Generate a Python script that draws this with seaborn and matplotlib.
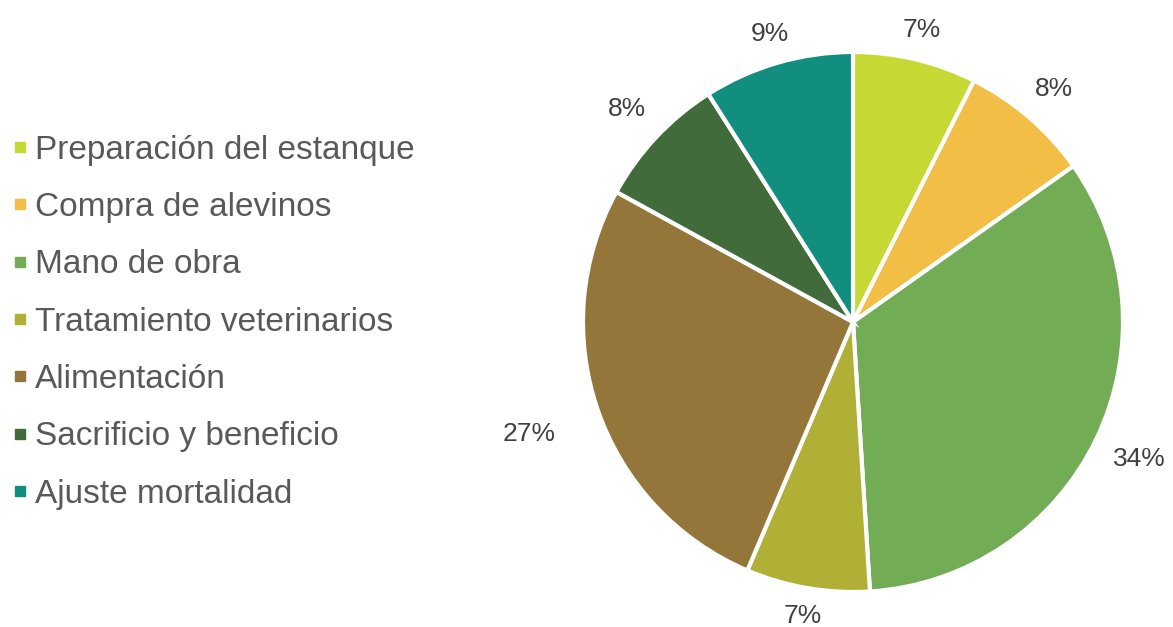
import matplotlib
matplotlib.use("Agg")
import numpy as np
import matplotlib.pyplot as plt
import seaborn as sns
from matplotlib.lines import Line2D

# data (percent of total cost)
categorias = ["Preparación del estanque", "Compra de alevinos", "Mano de obra",
              "Tratamiento veterinarios", "Alimentación", "Sacrificio y beneficio",
              "Ajuste mortalidad"]
valores = [7.4, 7.8, 33.8, 7.4, 26.6, 8.0, 9.0]
colores = ["#C5D833", "#F2BE45", "#72AC55", "#AFB035", "#95763A", "#426B3B", "#118E7E"]
# how far out each percent label sits (in pie radii)
dist_etiquetas = [1.11, 1.14, 1.175, 1.105, 1.27, 1.15, 1.11]

sns.set_theme(style="white")
plt.rcParams["font.family"] = ["Liberation Sans", "DejaVu Sans"]

fig = plt.figure(figsize=(11.73, 6.27), dpi=100)
r_px = 270
ax = fig.add_axes([(853 - 1.3 * r_px) / 1173, (627 - 322 - 1.3 * r_px) / 627,
                   2.6 * r_px / 1173, 2.6 * r_px / 627])

wedges, texts = ax.pie(
    valores, colors=colores, startangle=90, counterclock=False,
    wedgeprops=dict(edgecolor="white", linewidth=3))
total = sum(valores)
for w, v, d in zip(wedges, valores, dist_etiquetas):
    ang = np.deg2rad((w.theta1 + w.theta2) / 2)
    ax.text(d * np.cos(ang), d * np.sin(ang), f"{100 * v / total:.0f}%",
            ha="center", va="center", color="#404040", fontsize=19)
ax.set_xlim(-1.3, 1.3)
ax.set_ylim(-1.3, 1.3)
ax.set_aspect("equal")
ax.axis("off")

handles = [Line2D([0], [0], marker="s", linestyle="", markersize=7.5,
                  markerfacecolor=c, markeredgecolor=c) for c in colores]
leg = fig.legend(handles, categorias, loc="center left",
                 bbox_to_anchor=(12 / 1173, 1 - 322 / 627), frameon=False,
                 fontsize=24, labelspacing=0.79, handlelength=0.45,
                 handletextpad=0.24, borderaxespad=0, borderpad=0)
for t in leg.get_texts():
    t.set_color("#595959")

fig.savefig("out.png", dpi=100, facecolor="white")
